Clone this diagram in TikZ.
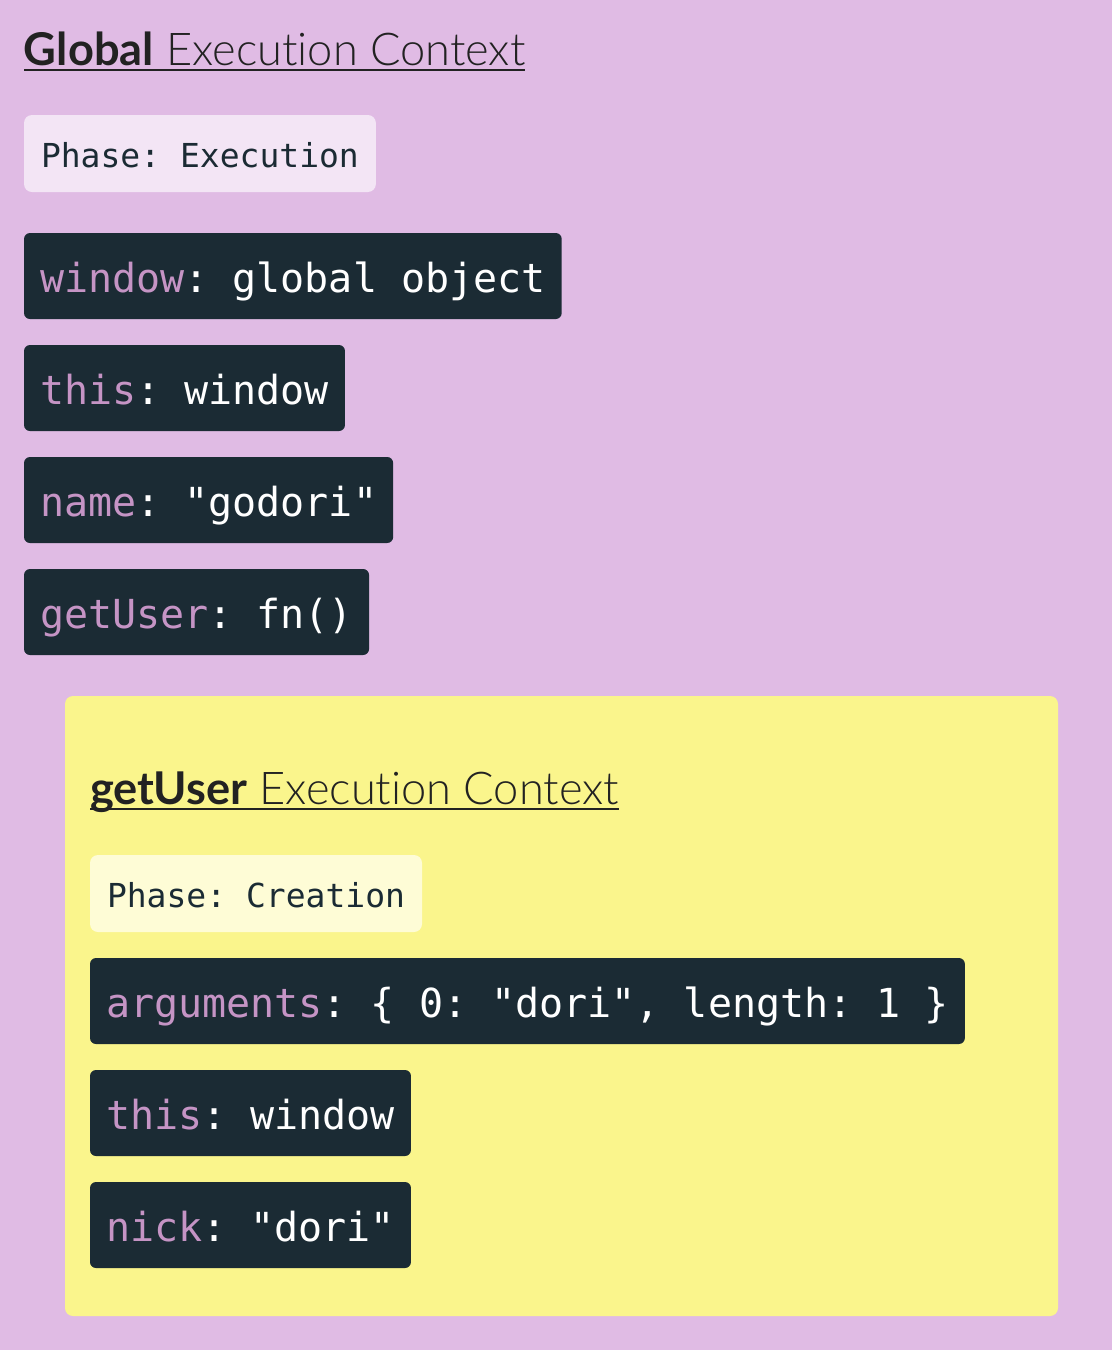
\documentclass[tikz,border=0pt]{standalone}
\usepackage{fontspec}
\setmonofont{DejaVu Sans Mono}
\newfontfamily\headbold{Lato}[Ligatures=NoCommon]
\IfFontExistsTF{Lato Light}{\newfontfamily\headlight{Lato Light}[Ligatures=NoCommon]}{\newfontfamily\headlight{Lato}[Ligatures=NoCommon]}
\usetikzlibrary{positioning}

\definecolor{lavender}{HTML}{E0BBE4}
\definecolor{butter}{HTML}{FAF58C}
\definecolor{ink}{HTML}{1B2B34}
\definecolor{headink}{HTML}{222222}
\definecolor{keypink}{HTML}{C594C5}
\definecolor{lilacphase}{HTML}{F3E5F5}
\definecolor{butterphase}{HTML}{FEFCD6}

\tikzset{heading/.style = {inner sep=0pt, outer sep=0pt,
                           text=headink,
                           font=\headlight\fontsize{22.6}{28}\selectfont}}
\tikzset{underline/.style = {line width=1pt, draw=headink}}
\tikzset{phasebox/.style = {rounded corners=4pt, outer sep=0pt,
                            inner xsep=8.5pt, inner ysep=0pt,
                            minimum height=38.5pt,
                            text height=17.5pt, text depth=4pt,
                            text=ink,
                            font=\ttfamily\fontsize{16.5}{20}\selectfont}}
\tikzset{varbox/.style = {fill=ink, rounded corners=3pt, outer sep=0pt,
                          inner xsep=8pt, inner ysep=0pt,
                          minimum height=43pt,
                          text height=20pt, text depth=4pt,
                          text=white,
                          font=\ttfamily\fontsize{20}{24}\selectfont}}
\newcommand{\varkey}[1]{\textcolor{keypink}{#1}}

\begin{document}
\begin{tikzpicture}[x=0.5pt, y=-0.5pt]

  % Background
  \fill[lavender] (0,0) rectangle (1112,1350);
  \useasboundingbox (0,0) rectangle (1112,1350);

  % Global context
  \node[heading, anchor=base west] (ghead) at (24,65)
    {{\headbold\bfseries Global} Execution Context};
  \draw[underline] ([yshift=-2.5pt]ghead.base west) -- ([yshift=-2.5pt]ghead.base east);
  \node[phasebox, fill=lilacphase, anchor=north west] (gphase) at (24,115) {Phase: Execution};
  \node[varbox, below right=20.5pt and 0pt of gphase.south west] (gwin)
    {\varkey{window}: global object};
  \node[varbox, below right=13pt and 0pt of gwin.south west] (gthis)
    {\varkey{this}: window};
  \node[varbox, below right=13pt and 0pt of gthis.south west] (gname)
    {\varkey{name}: "godori"};
  \node[varbox, below right=13pt and 0pt of gname.south west] (gfn)
    {\varkey{getUser}: fn()};

  % getUser context
  \fill[butter, rounded corners=4pt] (65,696) rectangle (1058,1316);
  \node[heading, anchor=base west] (uhead) at (90,804)
    {{\headbold\bfseries getUser} Execution Context};
  \draw[underline] ([yshift=-2.5pt]uhead.base west) -- ([yshift=-2.5pt]uhead.base east);
  \node[phasebox, fill=butterphase, anchor=north west] (uphase) at (90,855) {Phase: Creation};
  \node[varbox, below right=13pt and 0pt of uphase.south west] (uargs)
    {\varkey{arguments}: \{ 0: "dori", length: 1 \}};
  \node[varbox, below right=13pt and 0pt of uargs.south west] (uthis)
    {\varkey{this}: window};
  \node[varbox, below right=13pt and 0pt of uthis.south west] (unick)
    {\varkey{nick}: "dori"};

\end{tikzpicture}
\end{document}
